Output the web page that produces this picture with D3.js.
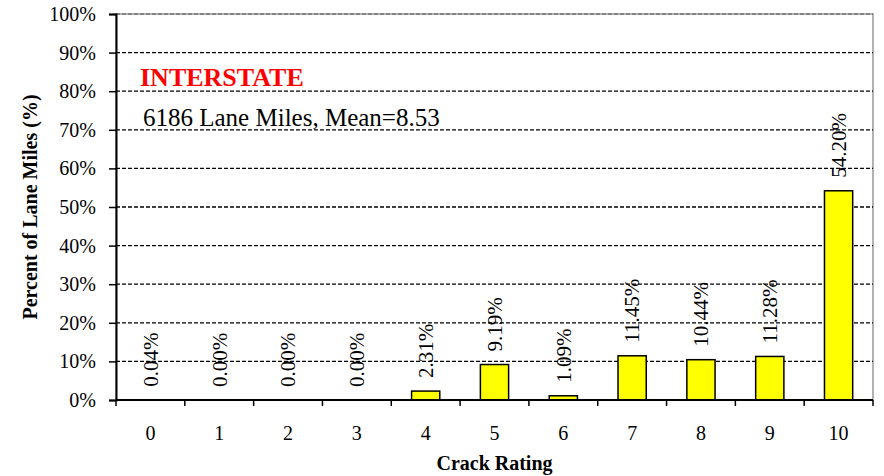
<!DOCTYPE html>
<html>
<head>
<meta charset="utf-8">
<script src="https://cdn.jsdelivr.net/npm/d3@7"></script>
<style>
  body { margin: 0; background: #fff; }
  text { font-family: "Liberation Serif", "Times New Roman", serif; }
</style>
</head>
<body>
<svg id="chart"></svg>
<script>
const ratings = [0, 1, 2, 3, 4, 5, 6, 7, 8, 9, 10];
const percents = [0.04, 0.00, 0.00, 0.00, 2.31, 9.19, 1.09, 11.45, 10.44, 11.28, 54.20];
const yTicks = [0, 10, 20, 30, 40, 50, 60, 70, 80, 90, 100];
const title = "INTERSTATE";
const subtitle = "6186 Lane Miles, Mean=8.53";

const data = ratings.map((r, i) => ({ rating: r, value: percents[i] }));

const width = 884, height = 476;
const margin = { top: 14, right: 11, bottom: 76, left: 116 };
const w = width - margin.left - margin.right;
const h = height - margin.top - margin.bottom;

const svg = d3.select('#chart')
    .attr('width', width)
    .attr('height', height);
const chart = svg.append('g')
    .attr('transform', `translate(${margin.left},${margin.top})`);

const x = d3.scaleBand().domain(ratings).range([0, w]).paddingInner(0.59).paddingOuter(0.295);
const band = d3.scaleBand().domain(ratings).range([0, w]);
const y = d3.scaleLinear().domain([0, 100]).range([h, 0]);

// plot area border (grey)
chart.append('rect')
    .attr('x', 0).attr('y', 0).attr('width', w).attr('height', h)
    .attr('fill', 'none').attr('stroke', '#999').attr('stroke-width', 1.5);

// dashed gridlines
chart.selectAll('.grid')
    .data(yTicks.filter(d => d > 0))
    .enter().append('line')
    .attr('x1', 0).attr('x2', w)
    .attr('y1', d => y(d)).attr('y2', d => y(d))
    .attr('stroke', '#000')
    .attr('stroke-opacity', d => d === 100 ? 0.35 : 1)
    .attr('stroke-width', 1.3)
    .attr('stroke-dasharray', '4,2');

// bars
chart.selectAll('.bar')
    .data(data.filter(d => d.value > 0))
    .enter().append('rect')
    .attr('x', d => x(d.rating))
    .attr('width', x.bandwidth())
    .attr('y', d => y(d.value))
    .attr('height', d => h - y(d.value))
    .attr('fill', '#ffff00')
    .attr('stroke', '#000')
    .attr('stroke-width', 1.5);

// value labels
chart.selectAll('.lbl')
    .data(data)
    .enter().append('text')
    .attr('transform', d => `translate(${band(d.rating) + band.bandwidth() / 2},${y(d.value) - 13}) rotate(-90)`)
    .attr('dy', '0.35em')
    .style('font-size', '21px')
    .text(d => d.value.toFixed(2) + '%');

// y axis
const yAxis = chart.append('g')
    .call(d3.axisLeft(y).tickValues(yTicks).tickFormat(d => d + '%').tickSize(7).tickPadding(13));
yAxis.select('.domain').attr('stroke-width', 2);
yAxis.selectAll('.tick line').attr('stroke-width', 1.5);
yAxis.selectAll('.tick text').style('font-size', '20px').style('font-family', '"Liberation Serif", serif');

// x axis ticks at band boundaries
const xg = chart.append('g').attr('transform', `translate(0,${h})`);
xg.append('line').attr('x1', 0).attr('x2', w).attr('stroke', '#000').attr('stroke-width', 2);
xg.selectAll('.xt')
    .data(ratings.concat([ratings.length]))
    .enter().append('line')
    .attr('x1', (d, i) => i * band.step()).attr('x2', (d, i) => i * band.step())
    .attr('y1', 0).attr('y2', 6)
    .attr('stroke', '#000').attr('stroke-width', 1.5);
xg.selectAll('.xl')
    .data(ratings)
    .enter().append('text')
    .attr('x', d => band(d) + band.bandwidth() / 2)
    .attr('y', 40)
    .attr('text-anchor', 'middle')
    .style('font-size', '20px')
    .text(d => d);

// axis titles
svg.append('text')
    .attr('transform', `translate(37,${margin.top + h / 2}) rotate(-90)`)
    .attr('text-anchor', 'middle')
    .style('font-size', '20px').style('font-weight', 'bold')
    .text('Percent of Lane Miles (%)');
svg.append('text')
    .attr('x', margin.left + w / 2)
    .attr('y', 470)
    .attr('text-anchor', 'middle')
    .style('font-size', '20px').style('font-weight', 'bold')
    .text('Crack Rating');

// annotations
svg.append('text')
    .attr('x', 140).attr('y', 86)
    .attr('fill', '#ff0000')
    .style('font-size', '26px').style('font-weight', 'bold')
    .text(title);
svg.append('text')
    .attr('x', 143).attr('y', 126)
    .style('font-size', '25px')
    .text(subtitle);
</script>
</body>
</html>
